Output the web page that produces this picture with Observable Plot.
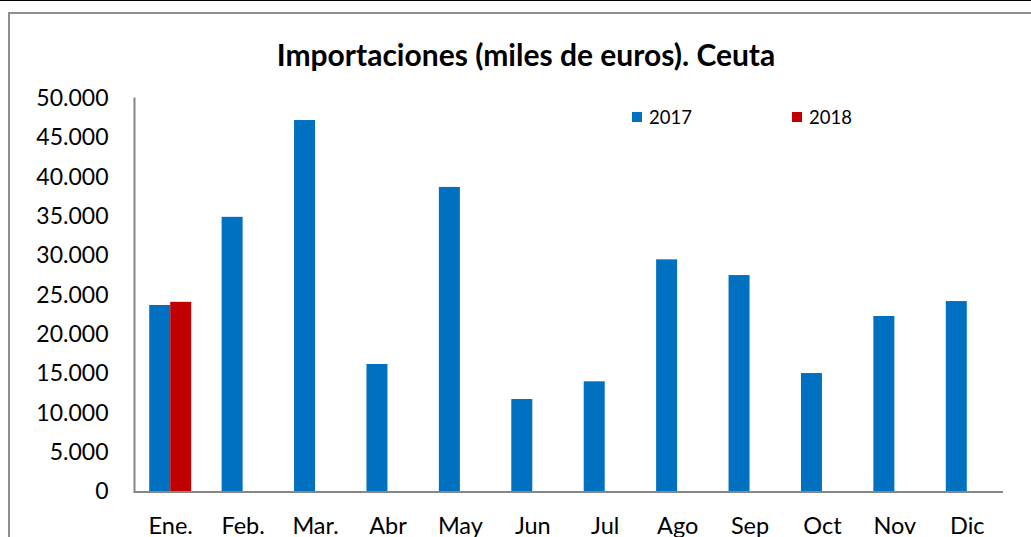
<!DOCTYPE html>
<html>
<head>
<meta charset="utf-8">
<script src="https://cdn.jsdelivr.net/npm/d3@7"></script>
<script src="https://cdn.jsdelivr.net/npm/@observablehq/plot@0.6"></script>
<style>
  html, body { margin: 0; padding: 0; background: #fff; overflow: hidden; }
  #wrap { position: relative; width: 1031px; height: 537px; font-family: Lato, "Open Sans", sans-serif; }
  #topline { position: absolute; left: 0; top: 0; width: 1031px; height: 1px; background: #000; }
  #box { position: absolute; left: 8px; top: 12px; width: 1040px; height: 560px; border: 2px solid #8e8e8e; box-sizing: border-box; }
  #title { position: absolute; left: 0; width: 1052px; top: 35px; text-align: center; font-weight: 700; font-size: 30px; color: #000; line-height: 38px; }
  .leg { position: absolute; top: 105px; font-size: 18.5px; line-height: 24px; color: #000; display: flex; align-items: center; }
  .leg span.sw { display: inline-block; width: 10px; height: 10px; margin-right: 7px; }
  #plot { position: absolute; left: 0; top: 0; }
</style>
</head>
<body>
<div id="wrap">
  <div id="topline"></div>
  <div id="box"></div>
  <div id="plot"></div>
  <div id="title"></div>
  <div id="legend"></div>
</div>
<script>
const months = ["Ene.", "Feb.", "Mar.", "Abr", "May", "Jun", "Jul", "Ago", "Sep", "Oct", "Nov", "Dic"];
const values2017 = [23700, 34900, 47200, 16200, 38700, 11750, 14000, 29500, 27500, 15050, 22300, 24200];
const months2018 = ["Ene."];
const values2018 = [24100];
const series = ["2017", "2018"];
const colors = ["#0070C0", "#C00000"];
const yTicks = [0, 5000, 10000, 15000, 20000, 25000, 30000, 35000, 40000, 45000, 50000];
const titleText = "Importaciones (miles de euros). Ceuta";

const data2017 = months.map((m, i) => ({month: m, value: values2017[i]}));
const data2018 = months2018.map((m, i) => ({month: m, value: values2018[i]}));

const fmt = d => d === 0 ? "0" : d3.format(",")(d).replace(/,/g, ".");

const chart = Plot.plot({
  width: 1031,
  height: 537,
  marginLeft: 134,
  marginRight: 28,
  marginTop: 98,
  marginBottom: 45.5,
  style: {fontFamily: "Lato, 'Open Sans', sans-serif", background: "transparent", overflow: "visible"},
  x: {domain: months, paddingInner: 0.71, paddingOuter: 0.355, round: false, label: null},
  y: {domain: [0, 50000], label: null},
  marks: [
    Plot.axisX({tickSize: 0, tickPadding: 25, fontSize: 23.5, fill: "#000", label: null}),
    Plot.axisY({ticks: yTicks, tickSize: 0, tickPadding: 26, fontSize: 23, fill: "#000", tickFormat: fmt, label: null}),
    Plot.barY(data2017, {x: "month", y: "value", fill: colors[0], dx: -10.5}),
    Plot.barY(data2018, {x: "month", y: "value", fill: colors[1], dx: 10.5}),
    Plot.frame({anchor: "left", stroke: "#868686", strokeWidth: 2}),
    Plot.ruleY([0], {stroke: "#868686", strokeWidth: 2})
  ]
});
document.getElementById("plot").appendChild(chart);

document.getElementById("title").textContent = titleText;

const legend = document.getElementById("legend");
const legLeft = [632, 792];
series.forEach((s, i) => {
  const d = document.createElement("div");
  d.className = "leg";
  d.style.left = legLeft[i] + "px";
  const sw = document.createElement("span");
  sw.className = "sw";
  sw.style.background = colors[i];
  d.appendChild(sw);
  d.appendChild(document.createTextNode(s));
  legend.appendChild(d);
});
</script>
</body>
</html>
